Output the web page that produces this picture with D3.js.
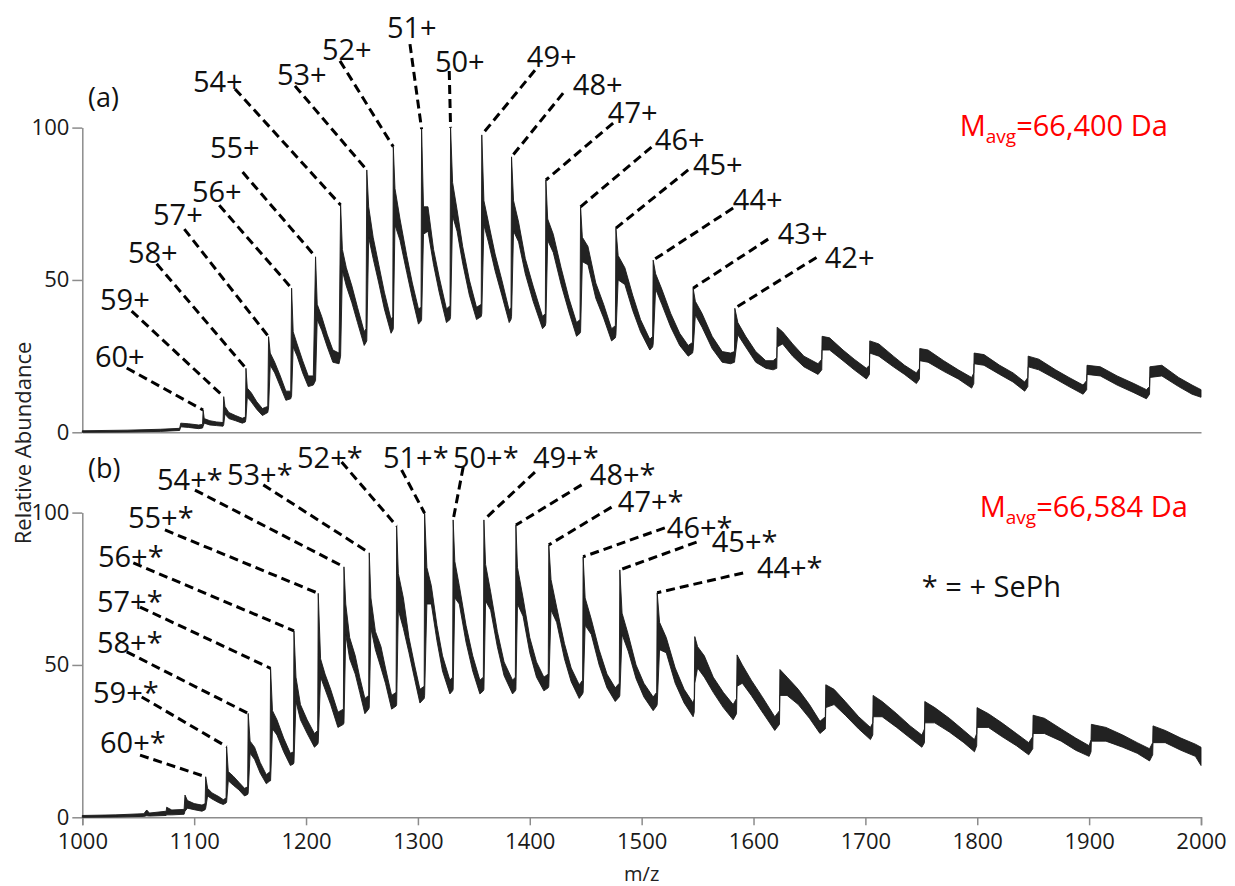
<!DOCTYPE html>
<html>
<head>
<meta charset="utf-8">
<script src="https://cdn.jsdelivr.net/npm/d3@7/dist/d3.min.js"></script>
<style>
    body { margin: 0; background: #fff; }
    svg { display: block; font-family: "Open Sans", sans-serif; }
</style>
</head>
<body>
<svg id="chart" width="1235" height="886"></svg>
<script>
; (function () {

    // spectrum rows: [m/z, upper edge, lower edge] of the noisy trace

    var specA = [
        [1000, 0.5, 0.0], [1040, 0.7, 0.1], [1070, 1.0, 0.3], [1087, 1.3, 0.6], [1088, 3.0, 1.8],
        [1095, 2.8, 1.6], [1104, 2.4, 1.2], [1107.5, 2.6, 1.4],
        [1108.0, 7.3, 2.0], [1109, 4.5, 3.0], [1114, 3.8, 2.4], [1120, 3.4, 2.2], [1125.8, 3.2, 2.0],
        [1126.4, 11.7, 2.5], [1127.5, 8.5, 6.0], [1131, 6.5, 4.5], [1137, 5.5, 3.8], [1143, 4.6, 3.0], [1145.8, 5.0, 3.4],
        [1146.3, 21.0, 4.5], [1147.5, 14.5, 11.5], [1151, 13.0, 10.0], [1156, 10.0, 7.5], [1161, 7.8, 5.5], [1165.8, 8.5, 6.5],
        [1166.5, 31.4, 8], [1168, 26, 22], [1172, 23, 19.5], [1177, 18.5, 15], [1182, 13.5, 10.5], [1186.3, 13.5, 11],
        [1187.1, 47.3, 12], [1188.5, 33, 28], [1192, 29, 25], [1197, 23.5, 19.5], [1202, 18.5, 15], [1206.5, 18.5, 15.5],
        [1208.5, 57.6, 17], [1210, 42, 37], [1214, 38, 33.5], [1219, 32, 28], [1224, 27, 23], [1229.5, 26, 22.5],
        [1230.9, 74.6, 25], [1232.5, 60, 53], [1236, 54, 48], [1241, 48, 42.5], [1246, 41, 36], [1252, 33, 28.5], [1253.6, 34, 29.5],
        [1254.3, 86.1, 30], [1256, 74, 64], [1260, 64, 57], [1265, 55, 49], [1270, 46, 40.5], [1276, 37, 32.5], [1277.5, 38, 33.5],
        [1278.0, 93.7, 34], [1279.5, 80, 68], [1284, 70, 63], [1290, 58, 52.5], [1295, 49, 44], [1300.5, 40.5, 35.5], [1302.8, 41, 36.5],
        [1303.3, 99.5, 37], [1305, 74, 65], [1309, 74, 66], [1314, 60, 55], [1319, 51, 46], [1325.5, 40.5, 36], [1328.7, 41.5, 37],
        [1329.2, 100, 38], [1331, 82, 71], [1335, 73, 66], [1340, 61, 55.5], [1346, 50, 45], [1352.4, 41, 37], [1356.6, 42, 38],
        [1357.1, 97.6, 39], [1359, 76, 68], [1363, 69, 62.5], [1369, 58.5, 53], [1375, 50, 45], [1381.6, 40, 36], [1383.2, 41, 37],
        [1383.7, 90.4, 38], [1385.5, 76, 66], [1390, 69, 62.5], [1396, 57, 52], [1403, 48, 43], [1411.4, 38, 34], [1413.9, 39, 35],
        [1414.4, 82.8, 36], [1416, 70, 63], [1421, 65, 59], [1428, 54, 48.5], [1435, 44, 39.5], [1441.8, 36, 31.5], [1444.9, 37, 32.5],
        [1445.4, 74, 33], [1447, 64, 56], [1452, 61, 55], [1459, 49, 44], [1466, 42, 37.5], [1473.1, 34, 30], [1476.5, 35, 31],
        [1477, 67, 32], [1479, 58, 50], [1485, 54, 48.5], [1492, 45, 40], [1499, 37, 33], [1507.3, 30.5, 27], [1509.8, 31.5, 28],
        [1510.3, 56.5, 29], [1512.5, 52, 47], [1518, 47, 42], [1526, 39, 34.5], [1534, 32.5, 28.5], [1541.6, 28.5, 25], [1545.5, 29.5, 26],
        [1546, 47.3, 27], [1548, 43, 38.5], [1554, 39, 34.5], [1563, 31.5, 27.5], [1572, 26.5, 23], [1579.5, 26, 22.5], [1583, 26.5, 23],
        [1583.3, 40.7, 24], [1586, 36, 32], [1593, 31.5, 28], [1602, 26.5, 23], [1611, 23.5, 21], [1617.5, 23.5, 20.5], [1620.8, 24.5, 21],
        [1621.1, 34.5, 28], [1626, 33, 29], [1635, 29, 25], [1645, 25, 21.5], [1657.7, 22.5, 19], [1661, 24, 20.5],
        [1661.3, 31.5, 27], [1668, 31, 27], [1680, 27, 23.5], [1690, 24, 20.5], [1700.9, 21, 17.5], [1703.6, 22, 19],
        [1703.9, 30, 26], [1712, 29, 25], [1725, 25, 21.5], [1735, 22, 19], [1745.6, 19.5, 16], [1748.3, 21, 17.5],
        [1748.6, 27.5, 23.5], [1756, 27, 23], [1770, 23.5, 20], [1783, 20.5, 17.5], [1795, 18, 14.5], [1796.9, 19.5, 16],
        [1797.2, 26, 22.5], [1806, 25.5, 22], [1820, 22, 19], [1832, 19.5, 16.5], [1842.4, 16.5, 13.5], [1845.2, 18, 15],
        [1845.5, 25, 21.5], [1855, 24, 20.5], [1870, 20.5, 17.5], [1882, 18, 15], [1894.6, 15.5, 12.5], [1897.8, 17, 14],
        [1898.1, 22, 19], [1910, 21.5, 18.5], [1925, 18.5, 15.5], [1940, 16, 13], [1951.2, 14, 11], [1954, 15, 12.5],
        [1954.3, 21.5, 18], [1965, 22, 18.5], [1980, 18, 15], [1992, 15.5, 12.5], [2000, 14, 11.5]
    ]

    var specB = [
        [1000, 0.6, 0.0], [1030, 0.8, 0.1], [1055, 1.2, 0.3], [1057.6, 2.4, 0.5], [1060, 1.4, 0.4], [1075, 2.0, 0.6],
        [1075.4, 3.3, 0.8], [1080, 2.4, 0.8], [1091, 2.6, 1.0], [1091.8, 7.3, 2.0], [1094, 5.5, 3.0], [1100, 4.5, 2.5],
        [1107, 4.0, 2.0], [1109.8, 4.5, 2.5],
        [1110.3, 13.3, 3.0], [1112, 9.5, 7.0], [1116, 8.0, 6.0], [1122, 6.8, 4.8], [1126, 5.8, 4.2], [1128.5, 6.3, 4.7],
        [1129.0, 23.2, 5.0], [1130.5, 15, 12], [1135, 13.5, 10.5], [1140, 11.5, 9.0], [1145, 9.5, 7.0], [1147.8, 10, 7.5],
        [1148.3, 34.1, 8.0], [1150, 25, 21], [1154, 23, 19], [1159, 18, 14.5], [1164.5, 14, 11], [1167.8, 15, 12],
        [1168.3, 48.9, 12], [1170, 35, 29], [1174, 32, 27], [1180, 26, 21.5], [1186, 21, 17], [1188.7, 21.5, 17.5],
        [1189.2, 61.2, 18], [1191, 46, 38], [1195, 37, 32], [1201, 32, 27.5], [1207.5, 27.5, 23], [1210.4, 28.5, 24],
        [1210.9, 73.5, 24.5], [1213, 52, 46], [1217, 47, 42], [1222, 42, 37], [1228.5, 34.5, 29.5], [1233.4, 35.5, 30.5],
        [1233.9, 82.2, 31], [1235.5, 70, 60], [1239, 59, 52], [1244, 53, 47], [1248, 46, 41], [1252.6, 39, 34], [1256.0, 40, 35.5],
        [1256.5, 86.8, 36], [1258, 72, 62], [1262, 61, 55], [1267, 56, 49], [1271, 49, 44], [1276.5, 40, 35.5], [1280.5, 41, 36.5],
        [1281.0, 95.6, 37], [1282.5, 80, 68], [1287, 72, 62], [1292, 59, 54], [1297, 50, 45.5], [1301.8, 42, 37.5], [1305.6, 43, 39],
        [1306.0, 99.8, 40], [1308, 82, 70], [1312, 76, 70], [1317, 63, 58], [1322, 53, 48], [1328.6, 45, 40.5], [1331.0, 46, 41.5],
        [1331.5, 97.6, 42], [1333, 84, 72], [1337, 76, 70], [1343, 63, 57.5], [1349, 53, 48], [1355.4, 45, 40.5], [1358.5, 46, 41.5],
        [1359.0, 97.6, 42], [1360.5, 83, 71], [1365, 74, 68], [1371, 61, 56], [1377, 51, 46.5], [1384.6, 45, 40.5], [1387.1, 46, 41.5],
        [1387.6, 95.9, 42], [1389, 82, 70], [1394, 72, 66], [1400, 59, 54], [1406, 51, 46], [1412.6, 46, 41.5], [1416.5, 47, 42.5],
        [1417.0, 89.4, 43], [1419, 78, 68], [1424, 69, 64], [1431, 57, 52], [1437, 49, 44.5], [1444.2, 43.5, 39], [1447.2, 45, 40.5],
        [1447.7, 85.5, 41], [1449.5, 72, 63], [1455, 65, 60], [1462, 55, 50], [1469, 47, 42.5], [1476.4, 42.5, 38], [1480.0, 44, 39.5],
        [1480.5, 81.2, 40], [1482.5, 67, 60], [1488, 60, 54.5], [1495, 50, 45.5], [1502, 44, 39.5], [1510.3, 39.5, 35], [1513.4, 41, 36.5],
        [1513.9, 73.7, 37], [1516, 64, 55], [1522, 59, 54], [1530, 49, 44], [1538, 42, 37.5], [1546, 37.5, 33], [1547.0, 39, 34.5],
        [1547.5, 59.3, 44], [1550, 56, 49], [1556, 53, 46], [1564, 46, 41], [1573, 41, 36], [1581.8, 37, 32], [1584.8, 39, 34],
        [1585.3, 53.3, 43], [1590, 50, 44], [1598, 45, 40], [1607, 40, 35], [1619, 33, 28.5], [1623.2, 35, 30.5],
        [1623.6, 48.5, 40], [1630, 46, 40], [1640, 42, 37], [1650, 37, 32.5], [1659.4, 31.5, 27.5], [1664.2, 33, 29],
        [1664.6, 43.5, 36], [1672, 42, 37], [1682, 38, 33.5], [1694, 33, 29], [1704.5, 29.5, 25.5], [1706.6, 31, 27],
        [1706.9, 40, 33], [1715, 38, 33], [1728, 34, 29.5], [1740, 30, 26], [1750.5, 27, 23], [1752.8, 29, 24.5],
        [1753.1, 38, 31], [1762, 36, 31], [1775, 32.5, 28], [1788, 28.5, 24.5], [1797.5, 25.5, 21.5], [1799.5, 27.5, 23.5],
        [1799.8, 36, 29.5], [1810, 34, 29.5], [1822, 31, 26.5], [1835, 27.5, 23.5], [1846, 24.5, 20.5], [1849.6, 26.5, 22.5],
        [1849.9, 33.5, 27.5], [1860, 32.5, 27.5], [1875, 29, 25], [1888, 26, 22], [1900, 23.5, 20], [1901.7, 25.5, 21.5],
        [1902, 30.5, 25], [1915, 29.5, 25], [1930, 27, 23], [1943, 24.5, 21], [1954, 22.5, 18.5], [1956.8, 24.5, 20.5],
        [1957.1, 30, 24.5], [1968, 28.5, 24.5], [1982, 26, 22], [1995, 24, 20], [2000, 23, 17]
    ]

    // labelled charge states: peak m/z and apex abundance
    var chargeA = [60, 59, 58, 57, 56, 55, 54, 53, 52, 51, 50, 49, 48, 47, 46, 45, 44, 43, 42]
    var peakMzA = [1108.0, 1126.4, 1146.3, 1166.5, 1187.1, 1208.5, 1230.9, 1254.3, 1278.0, 1303.3, 1329.2, 1357.1, 1383.7, 1414.4, 1445.4, 1477.0, 1510.3, 1546.0, 1583.3]
    var peakTopA = [7.3, 11.7, 21.0, 31.4, 47.3, 57.6, 74.6, 86.1, 93.7, 99.5, 100, 97.6, 90.4, 82.8, 74.0, 67.0, 56.5, 47.3, 40.7]

    var chargeB = [60, 59, 58, 57, 56, 55, 54, 53, 52, 51, 50, 49, 48, 47, 46, 45, 44]
    var peakMzB = [1110.3, 1129.0, 1148.3, 1168.3, 1189.2, 1210.9, 1233.9, 1256.5, 1281.0, 1306.0, 1331.5, 1359.0, 1387.6, 1417.0, 1447.7, 1480.5, 1513.9]
    var peakTopB = [13.3, 23.2, 34.1, 48.9, 61.2, 73.5, 82.2, 86.8, 95.6, 99.8, 97.6, 97.6, 95.9, 89.4, 85.5, 81.2, 73.7]

    var mzTicks = [1000, 1100, 1200, 1300, 1400, 1500, 1600, 1700, 1800, 1900, 2000]
    var abTicks = [0, 50, 100]

    var massA = "66,400"
    var massB = "66,584"

    // where the charge labels sit, in data units: [text m/z, text abundance, leader m/z, leader abundance]
    var labelPosA = [
        [1011.3, 21.4, 1039.7, 21.1], [1015.8, 40.2, 1044.1, 39.8], [1040.8, 55.6, 1066.5, 55.3],
        [1063.2, 68.0, 1091.2, 66.7], [1098.0, 75.5, 1122.4, 74.5], [1114.1, 90.0, 1143.3, 85.4],
        [1098.9, 111.7, 1136.5, 112.7], [1174.0, 114.0, 1190.1, 113.7], [1214.2, 122.2, 1230.3, 121.9],
        [1272.3, 129.4, 1292.9, 127.4], [1315.2, 118.2, 1328.0, 118.6], [1397.4, 119.8, 1404.6, 118.8],
        [1438.5, 110.6, 1429.8, 111.3], [1469.8, 101.5, 1474.5, 101.5], [1511.8, 92.6, 1508.8, 93.6],
        [1545.8, 84.4, 1541.6, 86.1], [1581.5, 72.9, 1581.8, 73.6], [1621.7, 61.8, 1613.1, 63.4],
        [1663.7, 53.8, 1656.3, 57.4]
    ]
    var labelPosB = [
        [1015.8, 21.1, 1051.6, 20.4], [1009.6, 37.5, 1053.1, 39.5], [1013.1, 53.9, 1039.7, 54.3],
        [1013.1, 67.4, 1051.6, 69.0], [1014.0, 82.1, 1045.6, 83.5], [1040.8, 94.9, 1073.9, 94.3],
        [1066.8, 107.4, 1100.7, 107.4], [1129.3, 109.1, 1161.8, 109.1], [1191.9, 114.6, 1231.8, 116.6],
        [1268.7, 114.6, 1285.4, 114.0], [1331.3, 114.6, 1340.5, 115.0], [1402.8, 114.6, 1404.6, 113.3],
        [1453.7, 109.1, 1446.3, 109.1], [1478.7, 100.2, 1473.1, 101.8], [1522.5, 91.7, 1520.7, 95.0],
        [1562.7, 87.1, 1549.1, 90.3], [1603.0, 78.6, 1590.7, 80.2]
    ]

    var svg = d3.select("#chart")

    var x = d3.scaleLinear().domain([1000, 2000]).range([82.3, 1201])
    var yA = d3.scaleLinear().domain([0, 100]).range([432.3, 127.6])
    var yB = d3.scaleLinear().domain([0, 100]).range([817.3, 512.6])

    drawPanel(specA, yA, false)
    drawPanel(specB, yB, true)

    drawLabels(yA, chargeA, peakMzA, peakTopA, labelPosA, "+")
    drawLabels(yB, chargeB, peakMzB, peakTopB, labelPosB, "+*")

    drawNotes(yA, "(a)", [1005.1, 106.9], massA, [1784.3, 97.2])
    drawNotes(yB, "(b)", [1005.1, 111.4], massB, [1802.2, 98.6])

    svg.append("text")
        .attr("x", x(1750.4)).attr("y", yB(72.3))
        .attr("font-size", 29).attr("fill", "#111")
        .text("* = + SePh")

    svg.append("text")
        .attr("x", x(1500)).attr("y", 881)
        .attr("text-anchor", "middle")
        .attr("font-size", 20).attr("fill", "#222")
        .text("m/z")

    svg.append("text")
        .attr("transform", "translate(31,443) rotate(-90)")
        .attr("text-anchor", "middle")
        .attr("font-size", 22).attr("fill", "#222")
        .text("Relative Abundance")

    function drawPanel(spec, y, withLabels) {

        var g = svg.append("g")

        var yAxis = d3.axisLeft(y).tickValues(abTicks).tickSize(10).tickSizeOuter(0).tickPadding(3)
        g.append("g").attr("transform", "translate(" + x(1000) + ",0)").call(yAxis)

        var xAxis = d3.axisBottom(x).tickSizeOuter(0).tickFormat(d3.format("d"))
        if (withLabels) {
            xAxis.tickValues(mzTicks).tickSize(8).tickPadding(8)
        } else {
            xAxis.tickValues([])
        }
        g.append("g").attr("transform", "translate(0," + y(0) + ")").call(xAxis)

        g.selectAll(".domain, .tick line").attr("stroke", "#8c8c8c").attr("stroke-width", 1.5)
        g.selectAll(".tick text").attr("font-size", 22).attr("fill", "#1a1a1a")
            .attr("font-family", "'Open Sans', sans-serif")

        var band = d3.area()
            .x(function (d) { return x(d[0]) })
            .y0(function (d) { return y(d[2]) })
            .y1(function (d) { return y(d[1]) })

        g.append("path")
            .datum(spec)
            .attr("d", band)
            .attr("fill", "#222")
            .attr("stroke", "#1a1a1a")
            .attr("stroke-width", 0.9)
            .attr("stroke-linejoin", "round")
    }

    function drawLabels(y, charges, mzs, tops, pos, suffix) {

        var g = svg.append("g")

        for (var i = 0, n = charges.length; i < n; i++) {
            var p = pos[i]
            g.append("line")
                .attr("x1", x(p[2])).attr("y1", y(p[3]))
                .attr("x2", x(mzs[i])).attr("y2", y(tops[i]))
                .attr("stroke", "#000")
                .attr("stroke-width", 3)
                .attr("stroke-dasharray", "9,5")

            g.append("text")
                .attr("x", x(p[0])).attr("y", y(p[1]))
                .attr("font-size", 29)
                .attr("fill", "#111")
                .text(charges[i] + suffix)
        }
    }

    function drawNotes(y, tag, tagPos, mass, massPos) {

        svg.append("text")
            .attr("x", x(tagPos[0])).attr("y", y(tagPos[1]))
            .attr("font-size", 27).attr("fill", "#111")
            .text(tag)

        var t = svg.append("text")
            .attr("x", x(massPos[0])).attr("y", y(massPos[1]))
            .attr("font-size", 29).attr("fill", "#ff0000")
        t.append("tspan").text("M")
        t.append("tspan").attr("font-size", 19).attr("dy", 7).text("avg")
        t.append("tspan").attr("dy", -7).text("=" + mass + " Da")
    }

})();
</script>
</body>
</html>
